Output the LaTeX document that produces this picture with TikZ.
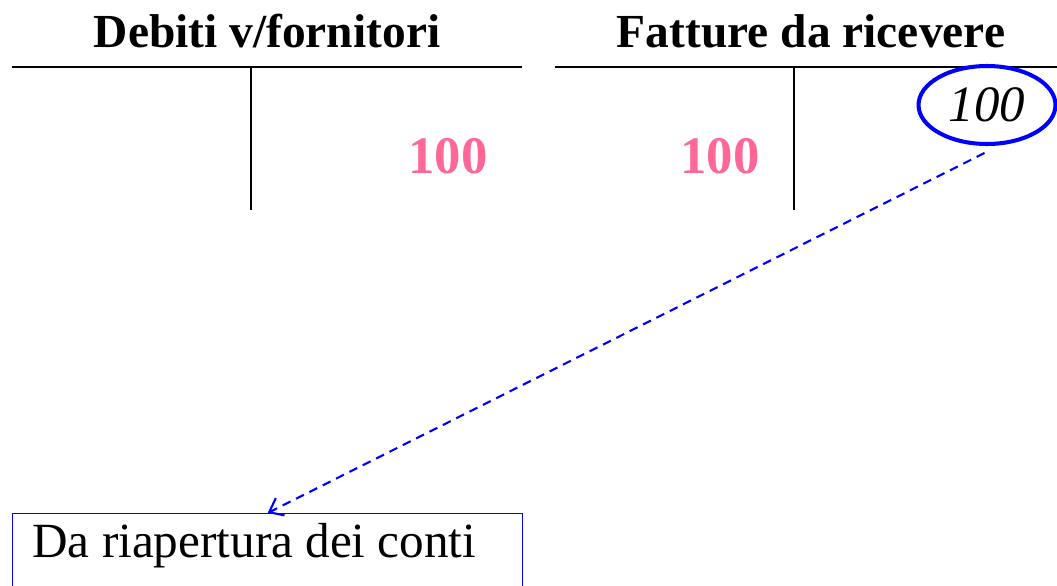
\documentclass[tikz,border=0pt]{standalone}
\usepackage{fontspec}
\setmainfont{Liberation Serif}
\usetikzlibrary{arrows.meta, positioning, shapes.geometric}
\definecolor{rosa}{RGB}{255,104,150}

\begin{document}
\begin{tikzpicture}[
    x=0.02cm, y=-0.02cm,
    % Node styles
    title/.style={
        font=\bfseries\fontsize{27}{31}\selectfont,
        inner sep=0pt, anchor=base,
    },
    amount/.style={
        font=\bfseries\fontsize{30}{34}\selectfont,
        text=rosa, inner sep=0pt, anchor=base,
    },
    marked/.style={
        ellipse, draw=blue, line width=2.3pt,
        minimum width=2.74cm, minimum height=1.56cm, inner sep=0pt,
        font=\itshape\fontsize{29}{33}\selectfont,
    },
    entrybox/.style={
        rectangle, draw=blue, line width=0.8pt,
        minimum width=10.2cm, minimum height=2cm,
        anchor=north west, inner sep=0pt,
    },
    entry/.style={
        font=\fontsize{28}{32}\selectfont,
        inner sep=0pt, anchor=base west,
    },
    tline/.style={draw=black, line width=1.1pt},
    tvert/.style={draw=black, line width=0.8pt},
    link/.style={
        draw=blue, line width=1.2pt, dash pattern=on 5pt off 3.5pt,
        -{Straight Barb[length=7pt, width=11pt]},
    },
]
\useasboundingbox (0,0) rectangle (1057,585);
\clip (0,0) rectangle (1057,585);

% === Account headings ===
\node[title] (deb) at (267,47) {Debiti v/fornitori};
\node[title] (fat) at (811,47) {Fatture da ricevere};

% === T-accounts ===
\draw[tline] (12,67) -- (522,67);
\draw[tvert] (251,67) -- (251,210);
\draw[tline] (555,67) -- (1057,67);
\draw[tvert] (794,67) -- (794,210);

% === Amounts ===
\node[amount] (debA) at (448,173) {100};
\node[amount] (fatD) at (720,173) {100};
\node[marked] (fatA) at (987,105) {100};

% === Reopening entry ===
\node[entrybox] (riap) at (12,513) {};
\node[entry] (riapT) at (32,557) {Da riapertura dei conti};

% === Link ===
\draw[link] ([xshift=-0.05cm, yshift=-0.14cm]fatA.south) -- (riap.north);

\end{tikzpicture}
\end{document}
